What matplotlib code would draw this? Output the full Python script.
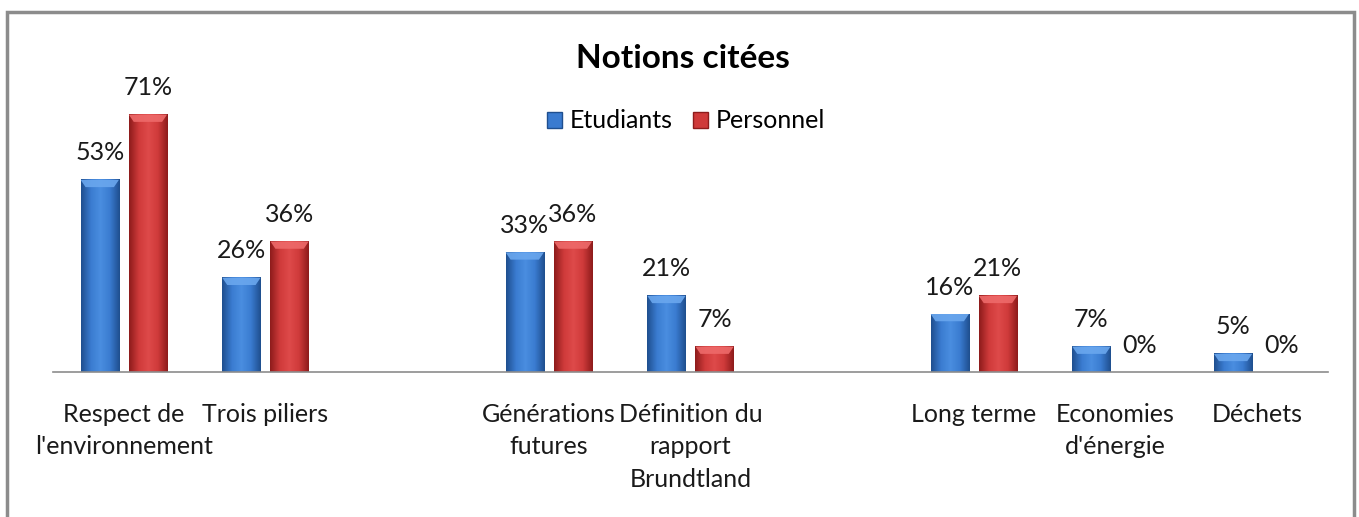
import matplotlib.pyplot as plt
import numpy as np
from matplotlib.patches import Rectangle, Polygon
from matplotlib.colors import LinearSegmentedColormap

plt.rcParams['font.family'] = ['Lato', 'DejaVu Sans']

# data (blank strings are the empty slots on the category axis)
categories = ["Respect de\nl'environnement", "Trois piliers", "",
              "Générations\nfutures", "Définition du\nrapport\nBrundtland", "",
              "Long terme", "Economies\nd'énergie", "Déchets"]
etudiants = [53, 26, None, 33, 21, None, 16, 7, 5]
personnel = [71, 36, None, 36, 7, None, 21, 0, 0]
series_names = ['Etudiants', 'Personnel']

W, H = 1359, 517
fig = plt.figure(figsize=(W / 100, H / 100), dpi=100)

# outer chart frame (bottom edge falls outside the picture)
fig.patches.append(Rectangle((7 / W, -0.05), (1354 - 7) / W, 1.05 - 12 / H,
                             transform=fig.transFigure, fill=False,
                             edgecolor='#8c8c8c', linewidth=2.5))

ax = fig.add_axes([53 / W, 1 - 372 / H, (1328 - 53) / W, 290 / H])
ax.set_xlim(-0.5, len(categories) - 0.5)
ax.set_ylim(0, 80)

blue_cmap = LinearSegmentedColormap.from_list('b', ['#1f4f8f', '#3a7bd0', '#4a8ee0', '#3a7bd0', '#1f4f8f'])
red_cmap = LinearSegmentedColormap.from_list('r', ['#8e1c1c', '#cf3a3a', '#de4a4a', '#cf3a3a', '#8e1c1c'])
grad = np.linspace(0, 1, 64).reshape(1, -1)

width = 0.27
offset = 0.17
x = np.arange(len(categories))


def draw_bar(xc, v, cmap, top_color):
    x0, x1 = xc - width / 2, xc + width / 2
    ax.imshow(grad, cmap=cmap, extent=(x0, x1, 0, v), aspect='auto', zorder=2)
    bev = min(2.0, v * 0.5)
    inset = 0.035
    ax.add_patch(Polygon([(x0, v), (x1, v), (x1 - inset, v - bev), (x0 + inset, v - bev)],
                         closed=True, facecolor=top_color, edgecolor='none', alpha=0.9, zorder=3))


def label(xc, v):
    ax.annotate(f'{v}%', (xc, v), xytext=(0, 14), textcoords='offset points',
                ha='center', va='baseline', fontsize=18, color='#1a1a1a')


for i in range(len(categories)):
    if etudiants[i] is not None:
        if etudiants[i] > 0:
            draw_bar(x[i] - offset, etudiants[i], blue_cmap, '#6aa7ee')
        label(x[i] - offset, etudiants[i])
    if personnel[i] is not None:
        if personnel[i] > 0:
            draw_bar(x[i] + offset, personnel[i], red_cmap, '#ee6a6a')
        label(x[i] + offset, personnel[i])

for s in ['top', 'right', 'left']:
    ax.spines[s].set_visible(False)
ax.spines['bottom'].set_color('#8c8c8c')
ax.spines['bottom'].set_linewidth(1.2)
ax.set_yticks([])
ax.set_xticks(x)
ax.set_xticklabels(categories, fontsize=18, color='#1a1a1a', linespacing=1.5)
ax.tick_params(axis='x', length=0, pad=22)
ax.set_facecolor('none')

fig.text(683 / W, 1 - 58 / H, 'Notions citées', ha='center', va='center',
         fontsize=24, fontweight='bold')

handles = [Rectangle((0, 0), 1, 1, facecolor='#3a7bd0', edgecolor='#1f4f8f'),
           Rectangle((0, 0), 1, 1, facecolor='#cf3a3a', edgecolor='#8e1c1c')]
fig.legend(handles, series_names, loc='center', bbox_to_anchor=(686 / W, 1 - 121 / H),
           ncol=2, frameon=False, fontsize=18, handlelength=0.6, handleheight=0.6,
           handletextpad=0.3, columnspacing=0.8)

fig.savefig('out.png', dpi=100)
